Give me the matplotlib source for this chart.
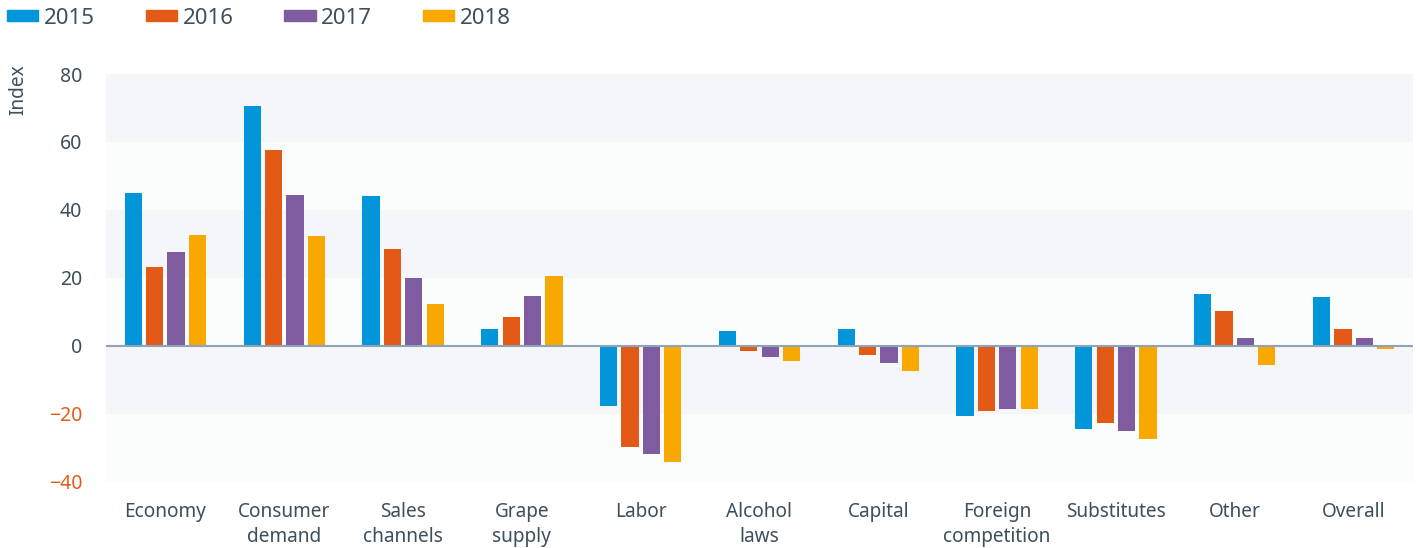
import numpy as np
import matplotlib.pyplot as plt
from matplotlib.patches import Patch

categories = ["Economy", "Consumer\ndemand", "Sales\nchannels", "Grape\nsupply", "Labor",
              "Alcohol\nlaws", "Capital", "Foreign\ncompetition", "Substitutes", "Other", "Overall"]
years = ["2015", "2016", "2017", "2018"]
v2015 = [45.1, 70.5, 44.2, 5.0, -17.9, 4.4, 5.0, -20.7, -24.6, 15.1, 14.4]
v2016 = [23.3, 57.5, 28.6, 8.3, -29.7, -1.7, -2.8, -19.1, -22.9, 10.1, 5.0]
v2017 = [27.7, 44.5, 20.0, 14.5, -32.0, -3.4, -5.1, -18.6, -25.2, 2.3, 2.3]
v2018 = [32.7, 32.4, 12.4, 20.6, -34.2, -4.5, -7.4, -18.6, -27.4, -5.6, -1.1]
yticks = [-40, -20, 0, 20, 40, 60, 80]

colors = ["#0096d9", "#e35a16", "#7f5ba0", "#f9a800"]
text_col = "#3d4f5c"
neg_col = "#e35a16"

plt.rcParams['font.family'] = ['Noto Sans', 'DejaVu Sans']

fig = plt.figure(figsize=(14.16, 5.48), dpi=100)
ax = fig.add_axes([106 / 1416, 1 - 481.5 / 548, 1307 / 1416, (481.5 - 74) / 548])

# alternating background bands
for lo, hi, c in [(-40, -20, "#fbfcfc"), (-20, 0, "#f5f6fa"), (0, 20, "#fbfcfc"),
                  (20, 40, "#f5f6fa"), (40, 60, "#fbfcfc"), (60, 80, "#f5f6fa")]:
    ax.axhspan(lo, hi, color=c, zorder=0, lw=0)

x = np.arange(len(categories))
step = 0.18
width = 0.145
for i, vals in enumerate([v2015, v2016, v2017, v2018]):
    ax.bar(x + (i - 1.5) * step, vals, width, color=colors[i], zorder=2)

ax.axhline(0, color="#8fa3b8", lw=1.5, zorder=3)

ax.set_xlim(-0.5, len(categories) - 0.5)
ax.set_ylim(-40, 80)
ax.set_yticks(yticks)
ax.set_yticklabels([("\u2212" + str(-t)) if t < 0 else str(t) for t in yticks], fontsize=14)
for lab, t in zip(ax.get_yticklabels(), yticks):
    lab.set_color(neg_col if t < 0 else text_col)
ax.set_xticks(x)
ax.set_xticklabels(categories, fontsize=13.7, color=text_col, linespacing=1.3, va="top")
ax.tick_params(axis="both", length=0)
ax.tick_params(axis="x", pad=15)
ax.tick_params(axis="y", pad=17)
for s in ax.spines.values():
    s.set_visible(False)

fig.text(18 / 1416, 1 - 90 / 548, "Index", rotation=90, ha="center", va="center",
         fontsize=13.7, color=text_col)

handles = [Patch(color=c, label=y) for c, y in zip(colors, years)]
fig.legend(handles=handles, loc="center left", bbox_to_anchor=(7 / 1416, 1 - 18 / 548), ncol=4,
           frameon=False, fontsize=16, handlelength=1.4, handleheight=0.4, handletextpad=0.25,
           columnspacing=2.3, borderpad=0, borderaxespad=0, labelcolor=text_col)

fig.savefig("out.png", dpi=100)
